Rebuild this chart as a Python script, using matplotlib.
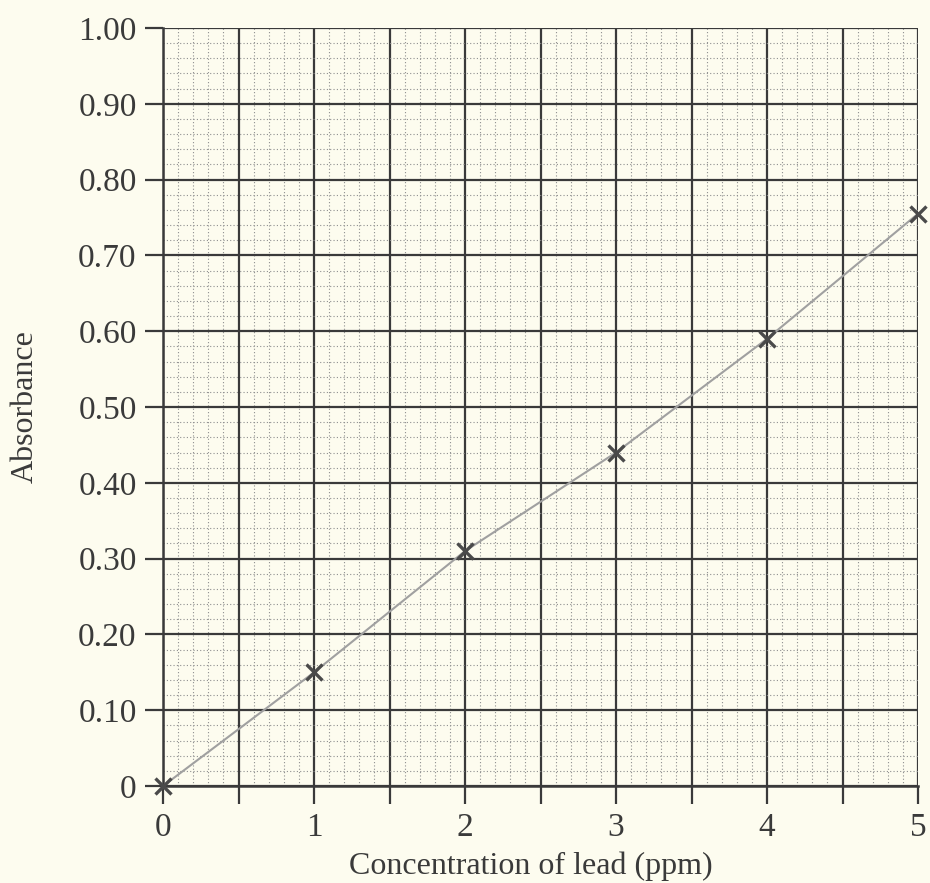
import matplotlib
matplotlib.use("Agg")
import matplotlib.pyplot as plt
import numpy as np
from matplotlib.ticker import MultipleLocator

concentration = [0, 1, 2, 3, 4, 5]
absorbance = [0.0, 0.15, 0.31, 0.44, 0.59, 0.755]
x_ticks = [0, 1, 2, 3, 4, 5]
y_ticks = [0, 0.10, 0.20, 0.30, 0.40, 0.50, 0.60, 0.70, 0.80, 0.90, 1.00]
y_labels = ["0", "0.10", "0.20", "0.30", "0.40", "0.50", "0.60", "0.70", "0.80", "0.90", "1.00"]

bg = "#fdfcef"
ink = "#3a3a3a"
plt.rcParams['font.family'] = ['Liberation Serif', 'DejaVu Serif']

fig = plt.figure(figsize=(9.3, 8.83), dpi=100, facecolor=bg)
ax = fig.add_axes([0.1753, 0.1098, 0.8118, 0.8585])
ax.set_facecolor(bg)
ax.set_xlim(0, 5)
ax.set_ylim(0, 1.0)

ax.xaxis.set_minor_locator(MultipleLocator(0.1))
ax.yaxis.set_minor_locator(MultipleLocator(0.02))
xt = np.arange(0, 5.01, 0.5)
ax.set_xticks(xt)
ax.set_xticklabels([str(int(round(v))) if round(v) in x_ticks and abs(v - round(v)) < 1e-9 else "" for v in xt])
ax.set_yticks(y_ticks)
ax.set_yticklabels(y_labels)

ax.grid(which='minor', color='#8f8f8f', linestyle=(0, (1, 2)), linewidth=0.8)
ax.grid(which='major', color=ink, linestyle='-', linewidth=1.6)
ax.set_axisbelow(True)

ax.tick_params(which='major', direction='out', length=13, width=1.6, color=ink,
               labelsize=24, labelcolor=ink, pad=6)
ax.tick_params(which='minor', length=0)
for s in ax.spines.values():
    s.set_visible(False)
ax.spines['left'].set_visible(True)
ax.spines['bottom'].set_visible(True)
ax.spines['left'].set_color(ink)
ax.spines['bottom'].set_color(ink)
ax.spines['left'].set_linewidth(1.8)
ax.spines['bottom'].set_linewidth(1.8)

ax.plot(concentration, absorbance, color='#a0a0a0', linewidth=1.5, zorder=3, clip_on=False)
ax.plot(concentration, absorbance, linestyle='none', marker='x', markersize=12,
        markeredgewidth=2.4, color='#4a4a4a', zorder=4, clip_on=False)

ax.set_xlabel("Concentration of lead (ppm)", fontsize=23, color=ink, labelpad=6, x=0.487)
ax.set_ylabel("Absorbance", fontsize=23, color=ink, labelpad=28)

fig.savefig("out.png", dpi=100, facecolor=bg)
